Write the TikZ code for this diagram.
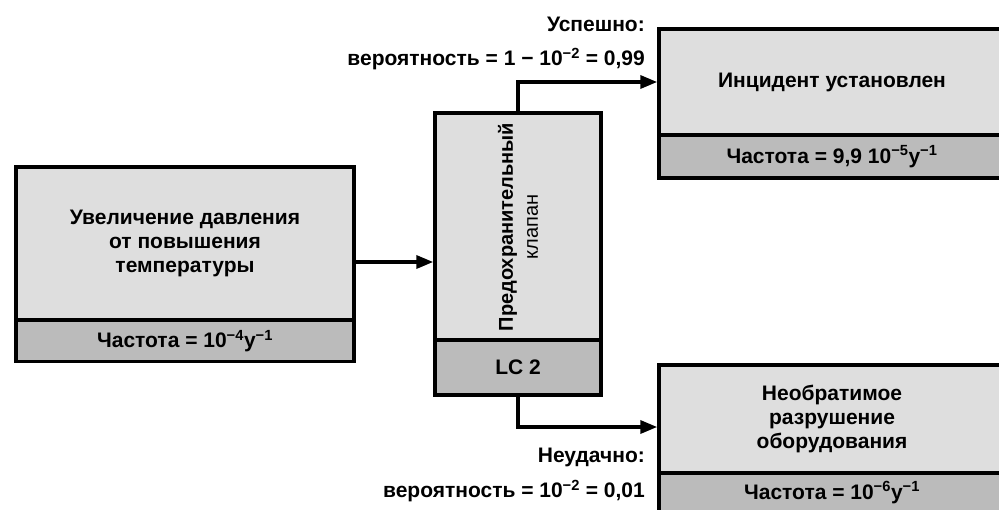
\documentclass[tikz,border=0pt]{standalone}
\usepackage{fontspec}
\setmainfont{Liberation Sans}
\usetikzlibrary{arrows.meta}
\definecolor{boxlight}{RGB}{222,222,222}
\definecolor{boxdark}{RGB}{187,187,187}
\newcommand{\sups}[1]{\textsuperscript{#1}}
\tikzset{
  upper/.style={draw=black, line width=3.5pt, fill=boxlight, inner sep=0pt,
    align=center, font=\bfseries\fontsize{21}{24}\selectfont},
  lower/.style={draw=black, line width=3.5pt, fill=boxdark, inner sep=0pt,
    align=center, font=\bfseries\fontsize{21}{24}\selectfont},
  lbl/.style={anchor=east, inner sep=0pt, font=\bfseries\fontsize{21}{24}\selectfont},
  conn/.style={line width=3.5pt, -{Triangle[length=17pt,width=13pt]}}
}
\begin{document}
\begin{tikzpicture}[x=1pt,y=-1pt]
\useasboundingbox (0,0) rectangle (999,509);
\clip (0,0) rectangle (999,509);
\fill[white] (0,0) rectangle (999,509);
% left box
\node[upper, minimum width=338pt, minimum height=153pt] (ltop) at (185,243.5)
  {Увеличение давления\\от повышения\\температуры};
\node[lower, minimum width=338pt, minimum height=41pt] (lbot) at (185,341)
  {Частота = 10\sups{−4}y\sups{−1}};
% middle box
\node[upper, minimum width=166pt, minimum height=227pt] (mtop) at (518,226.5) {};
\node[rotate=90, align=center, inner sep=0pt, font=\bfseries\fontsize{20}{25}\selectfont] (mtxt) at (518,227)
  {Предохранительный\\{\mdseries клапан}};
\node[lower, minimum width=166pt, minimum height=55pt] (mbot) at (518,367.5) {LC 2};
% top right box
\node[upper, minimum width=346pt, minimum height=106pt] (rtop) at (832,82)
  {Инцидент установлен};
\node[lower, minimum width=346pt, minimum height=43pt] (rbot) at (832,156.5)
  {Частота = 9,9 10\sups{−5}y\sups{−1}};
% bottom right box
\node[upper, minimum width=346pt, minimum height=108pt] (btop) at (832,419)
  {Необратимое\\разрушение\\оборудования};
\node[lower, minimum width=346pt, minimum height=39pt] (bbot) at (832,492.5)
  {Частота = 10\sups{−6}y\sups{−1}};
% labels
\node[lbl] (l1) at (645,24) {Успешно:};
\node[lbl] (l2) at (645,59) {вероятность = 1 − 10\sups{−2} = 0,99};
\node[lbl] (l3) at (645,457) {Неудачно:};
\node[lbl] (l4) at (645,491) {вероятность = 10\sups{−2} = 0,01};
% connectors
\coordinate (ay) at (0,262);
\coordinate (by) at (0,427);
\draw[conn] (ltop.east |- ay) -- (mtop.west |- ay);
\draw[conn] (mtop.north) |- (rtop.west);
\draw[conn] (mbot.south) |- (btop.west |- by);
\end{tikzpicture}
\end{document}
